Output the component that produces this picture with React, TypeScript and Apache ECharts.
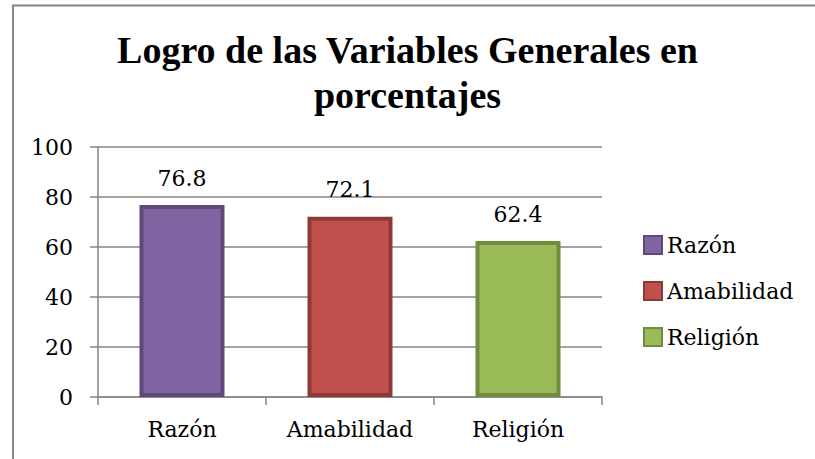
import React, { useEffect, useRef } from "react";
import * as echarts from "echarts";

const categories = ["Razón", "Amabilidad", "Religión"];
const values = [76.8, 72.1, 62.4];
const fillColors = ["#8064A2", "#C0504D", "#9BBB59"];
const borderColors = ["#5E4A7A", "#8D3A37", "#728C3F"];
const yTicks = { min: 0, max: 100, interval: 20 };
const titleText = "Logro de las Variables Generales en\nporcentajes";

const SERIF = "DejaVu Serif";
const TITLE_FONT = "Liberation Serif";
const GRAY = "#868686";

export default function App() {
  const ref = useRef<HTMLDivElement>(null);
  useEffect(() => {
    if (!ref.current) return;
    const chart = echarts.init(ref.current, undefined, { renderer: "svg" });
    const series = categories.map((name, i) => ({
      name,
      type: "bar",
      stack: "all",
      barWidth: 85,
      data: categories.map((_, j) => (j === i ? values[i] : null)),
      itemStyle: {
        color: fillColors[i],
        borderColor: borderColors[i],
        borderWidth: 4,
      },
      label: {
        show: true,
        position: "top",
        distance: 16,
        color: "#000",
        fontFamily: SERIF,
        fontSize: 22,
      },
    }));
    chart.setOption({
      animation: false,
      backgroundColor: "#fff",
      textStyle: { fontFamily: SERIF },
      title: {
        text: titleText,
        left: "center",
        top: 27,
        padding: 0,
        textStyle: {
          fontFamily: TITLE_FONT,
          fontWeight: "bold",
          fontSize: 38,
          lineHeight: 45,
          color: "#000",
        },
      },
      legend: {
        orient: "vertical",
        left: 643,
        top: 234,
        icon: "rect",
        itemWidth: 18,
        itemHeight: 18,
        itemGap: 24,
        padding: 0,
        textStyle: {
          fontFamily: SERIF,
          fontSize: 22,
          lineHeight: 18,
          color: "#000",
        },
        data: categories,
      },
      grid: { left: 98, right: 213, top: 147, bottom: 62, containLabel: false },
      xAxis: {
        type: "category",
        data: categories,
        axisLine: { lineStyle: { color: GRAY, width: 1.5 } },
        axisTick: { show: true, length: 8, lineStyle: { color: GRAY, width: 1.5 } },
        axisLabel: {
          margin: 21,
          color: "#000",
          fontFamily: SERIF,
          fontSize: 22,
        },
      },
      yAxis: {
        type: "value",
        min: yTicks.min,
        max: yTicks.max,
        interval: yTicks.interval,
        axisLine: { show: true, lineStyle: { color: GRAY, width: 1.5 } },
        axisTick: { show: true, length: 8, lineStyle: { color: GRAY, width: 1.5 } },
        splitLine: { show: true, lineStyle: { color: GRAY, width: 1.5 } },
        axisLabel: {
          margin: 25,
          color: "#000",
          fontFamily: SERIF,
          fontSize: 22,
        },
      },
      graphic: [
        {
          type: "line",
          shape: { x1: 13, y1: 5, x2: 13, y2: 459 },
          style: { stroke: GRAY, lineWidth: 2 },
          silent: true,
        },
        {
          type: "line",
          shape: { x1: 12, y1: 5.5, x2: 815, y2: 5.5 },
          style: { stroke: GRAY, lineWidth: 2 },
          silent: true,
        },
      ],
      series,
    });
    return () => chart.dispose();
  }, []);
  return (
    <div
      ref={ref}
      style={{ position: "fixed", left: 0, top: 0, width: 815, height: 459 }}
    />
  );
}
